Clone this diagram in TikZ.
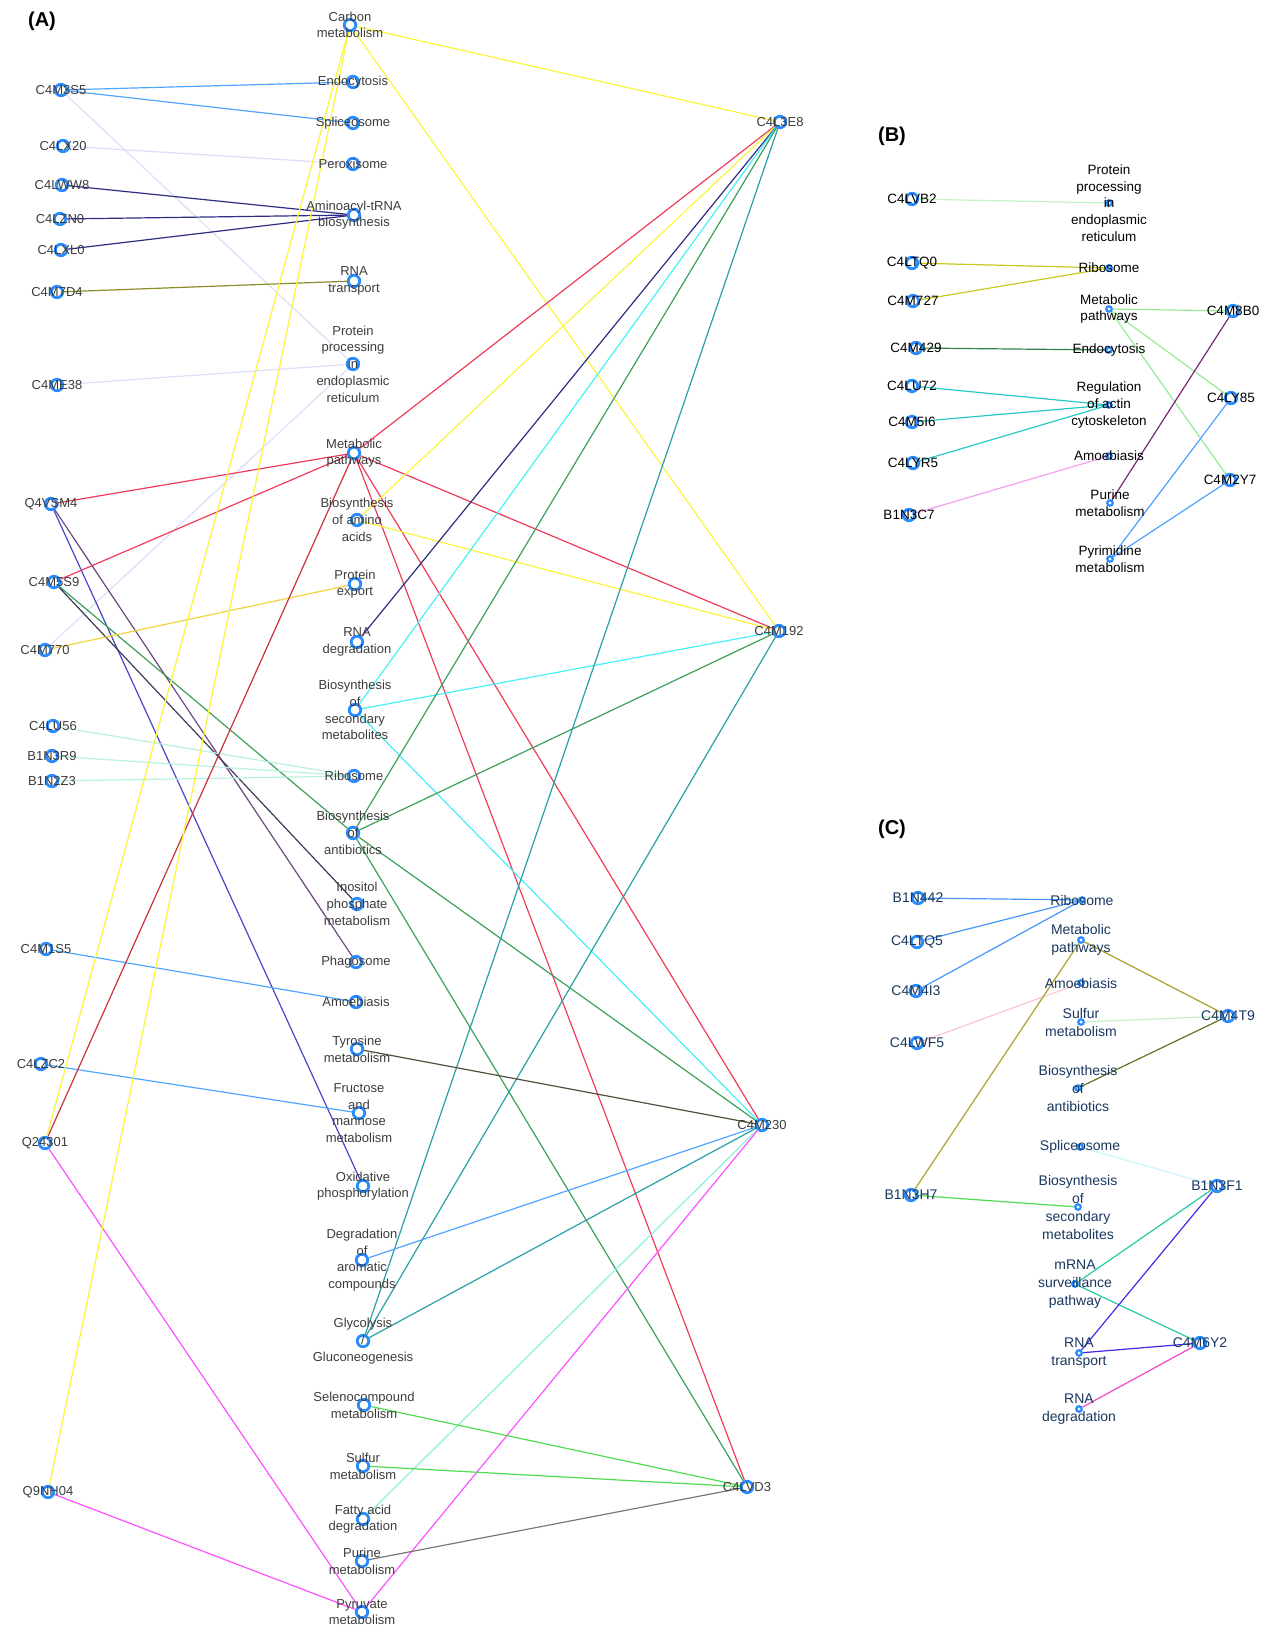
\documentclass[tikz,border=0pt]{standalone}
\usepackage{fontspec}
\setmainfont{Liberation Sans}
\usepackage{xcolor}
\usepackage{tikz}
\usetikzlibrary{backgrounds}

\definecolor{ringblue}{RGB}{40,140,255}
\definecolor{txtA}{RGB}{60,60,60}
\definecolor{txtC}{RGB}{25,55,95}
\definecolor{ebluelt}{RGB}{80,165,255}
\definecolor{elav}{RGB}{222,222,250}
\definecolor{enavy}{RGB}{45,45,130}
\definecolor{eolive}{RGB}{140,140,40}
\definecolor{ered}{RGB}{240,60,90}
\definecolor{edred}{RGB}{200,50,60}
\definecolor{eyel}{RGB}{250,245,60}
\definecolor{emag}{RGB}{255,80,255}
\definecolor{egreen}{RGB}{60,160,90}
\definecolor{eteal}{RGB}{40,160,165}
\definecolor{ecyan}{RGB}{70,240,245}
\definecolor{emint}{RGB}{185,242,220}
\definecolor{epurp}{RGB}{110,70,130}
\definecolor{eindigo}{RGB}{70,70,200}
\definecolor{edark}{RGB}{60,60,90}
\definecolor{egrey}{RGB}{120,120,120}
\definecolor{etyro}{RGB}{80,80,60}
\definecolor{eaqua}{RGB}{140,240,220}
\definecolor{elime}{RGB}{80,220,80}
\definecolor{eorange}{RGB}{240,210,60}
\definecolor{elgreen}{RGB}{195,245,195}
\definecolor{eyolive}{RGB}{200,200,30}
\definecolor{edgreen}{RGB}{50,130,80}
\definecolor{eturq}{RGB}{40,200,200}
\definecolor{epink}{RGB}{245,160,240}
\definecolor{epale}{RGB}{150,235,150}
\definecolor{eviolet}{RGB}{120,40,120}
\definecolor{esky}{RGB}{80,160,255}
\definecolor{cblue}{RGB}{70,150,250}
\definecolor{cpink}{RGB}{250,200,205}
\definecolor{colive}{RGB}{170,160,40}
\definecolor{cgreen}{RGB}{80,220,80}
\definecolor{cpalegreen}{RGB}{200,240,200}
\definecolor{cdolive}{RGB}{90,120,30}
\definecolor{cpalecyan}{RGB}{200,245,250}
\definecolor{cteal}{RGB}{40,200,160}
\definecolor{cviolet}{RGB}{70,40,230}
\definecolor{cmag}{RGB}{240,70,200}

\begin{document}
\begin{tikzpicture}[x=1pt, y=-1pt,
    ring/.style={circle, draw=ringblue, line width=2.8, minimum size=11.5, inner sep=0},
    dot/.style={circle, draw=ringblue, line width=2.2, minimum size=5.5, inner sep=0},
    ta/.style={font=\fontsize{13}{16.7}\selectfont, text=txtA, align=center, inner sep=0},
    tb/.style={font=\fontsize{13.5}{16.7}\selectfont, text=black, align=center, inner sep=0},
    tc/.style={font=\fontsize{14}{18}\selectfont, text=txtC, align=center, inner sep=0},
    link/.style={line width=1.2},
    panel/.style={font=\fontsize{20}{24}\selectfont\bfseries}]

    \useasboundingbox (0,0) rectangle (1273,1631);

    % Panel labels
    \node[panel] (labA) at (42,21) {(A)};
    \node[panel] (labB) at (892,136) {(B)};
    \node[panel] (labC) at (892,829) {(C)};

    % (A) proteins, left
    \node[ring, label={[ta]center:C4M3S5}] (m3s5) at (61,90) {};
    \node[ring, label={[ta]center:C4LX20}] (lx20) at (63,146) {};
    \node[ring, label={[ta]center:C4LWW8}] (lww8) at (62,185) {};
    \node[ring, label={[ta]center:C4LZN0}] (lzn0) at (60,219) {};
    \node[ring, label={[ta]center:C4LXL0}] (lxl0) at (61,250) {};
    \node[ring, label={[ta]center:C4M7D4}] (m7d4) at (57,292) {};
    \node[ring, label={[ta]center:C4ME38}] (me38) at (57,385) {};
    \node[ring, label={[ta]center:Q4VSM4}] (vsm4) at (51,504) {};
    \node[ring, label={[ta]center:C4M5S9}] (m5s9) at (54,582) {};
    \node[ring, label={[ta]center:C4M770}] (m770) at (45,650) {};
    \node[ring, label={[ta]center:C4LU56}] (lu56) at (53,726) {};
    \node[ring, label={[ta]center:B1N3R9}] (n3r9) at (52,756) {};
    \node[ring, label={[ta]center:B1N2Z3}] (n2z3) at (52,781) {};
    \node[ring, label={[ta]center:C4M1S5}] (m1s5) at (46,949) {};
    \node[ring, label={[ta]center:C4LZC2}] (lzc2) at (41,1064) {};
    \node[ring, label={[ta]center:Q24301}] (q243) at (45,1143) {};
    \node[ring, label={[ta]center:Q9NH04}] (q9nh) at (48,1492) {};

    % (A) pathways, middle
    \node[ring, label={[ta]center:{Carbon\\metabolism}}] (carbon) at (350,25) {};
    \node[ring, label={[ta]center:Endocytosis}] (endoA) at (353,82) {};
    \node[ring, label={[ta]center:Spliceosome}] (spliceA) at (353,123) {};
    \node[ring, label={[ta]center:Peroxisome}] (peroxA) at (353,164) {};
    \node[ring, label={[ta]center:{Aminoacyl-tRNA\\biosynthesis}}] (aminoA) at (354,215) {};
    \node[ring, label={[ta]center:{RNA\\transport}}] (rnatrA) at (354,281) {};
    \node[ring, label={[ta]center:{Protein\\processing\\in\\endoplasmic\\reticulum}}] (protprA) at (353,364) {};
    \node[ring, label={[ta]center:{Metabolic\\pathways}}] (metabA) at (354,453) {};
    \node[ring, label={[ta]center:{Biosynthesis\\of amino\\acids}}] (aminoacA) at (357,520) {};
    \node[ring, label={[ta]center:{Protein\\export}}] (protexA) at (355,584) {};
    \node[ring, label={[ta]center:{RNA\\degradation}}] (rnadegA) at (357,642) {};
    \node[ring, label={[ta]center:{Biosynthesis\\of\\secondary\\metabolites}}] (secmetA) at (355,710) {};
    \node[ring, label={[ta]center:Ribosome}] (riboA) at (354,776) {};
    \node[ring, label={[ta]center:{Biosynthesis\\of\\antibiotics}}] (antibA) at (353,833) {};
    \node[ring, label={[ta]center:{Inositol\\phosphate\\metabolism}}] (inosA) at (357,904) {};
    \node[ring, label={[ta]center:Phagosome}] (phagoA) at (356,962) {};
    \node[ring, label={[ta]center:Amoebiasis}] (amoebA) at (356,1002) {};
    \node[ring, label={[ta]center:{Tyrosine\\metabolism}}] (tyroA) at (357,1049) {};
    \node[ring, label={[ta]center:{Fructose\\and\\mannose\\metabolism}}] (frucA) at (359,1113) {};
    \node[ring, label={[ta]center:{Oxidative\\phosphorylation}}] (oxidA) at (363,1186) {};
    \node[ring, label={[ta]center:{Degradation\\of\\aromatic\\compounds}}] (aromA) at (362,1260) {};
    \node[ring, label={[ta]center:{Glycolysis\\/\\Gluconeogenesis}}] (glycoA) at (363,1341) {};
    \node[ring, label={[ta]center:{Selenocompound\\metabolism}}] (selenA) at (364,1405) {};
    \node[ring, label={[ta]center:{Sulfur\\metabolism}}] (sulfA) at (363,1466) {};
    \node[ring, label={[ta]center:{Fatty acid\\degradation}}] (fattyA) at (363,1519) {};
    \node[ring, label={[ta]center:{Purine\\metabolism}}] (purA) at (362,1561) {};
    \node[ring, label={[ta]center:{Pyruvate\\metabolism}}] (pyruA) at (362,1612) {};

    % (A) proteins, right
    \node[ring, label={[ta]center:C4L3E8}] (l3e8) at (780,122) {};
    \node[ring, label={[ta]center:C4M192}] (m192) at (779,631) {};
    \node[ring, label={[ta]center:C4M230}] (m230) at (762,1125) {};
    \node[ring, label={[ta]center:C4LVD3}] (lvd3) at (747,1487) {};

    % (B) proteins and pathways
    \node[ring, label={[tb]center:C4LVB2}] (bvb2) at (912,199) {};
    \node[ring, label={[tb]center:C4LTQ0}] (btq0) at (912,263) {};
    \node[ring, label={[tb]center:C4M727}] (b727) at (913,301) {};
    \node[ring, label={[tb]center:C4M429}] (b429) at (916,348) {};
    \node[ring, label={[tb]center:C4LU72}] (blu72) at (912,386) {};
    \node[ring, label={[tb]center:C4M5I6}] (b5i6) at (912,422) {};
    \node[ring, label={[tb]center:C4LYR5}] (byr5) at (913,463) {};
    \node[ring, label={[tb]center:B1N3C7}] (b3c7) at (909,515) {};
    \node[dot, label={[tb]center:{Protein\\processing\\in\\endoplasmic\\reticulum}}] (bprot) at (1109,203) {};
    \node[dot, label={[tb]center:Ribosome}] (bribo) at (1109,268) {};
    \node[dot, label={[tb]center:{Metabolic\\pathways}}] (bmet) at (1109,309) {};
    \node[dot, label={[tb]center:Endocytosis}] (bendo) at (1109,350) {};
    \node[dot, label={[tb]center:{Regulation\\of actin\\cytoskeleton}}] (bact) at (1109,405) {};
    \node[dot, label={[tb]center:Amoebiasis}] (bamo) at (1109,456) {};
    \node[dot, label={[tb]center:{Purine\\metabolism}}] (bpur) at (1110,503) {};
    \node[dot, label={[tb]center:{Pyrimidine\\metabolism}}] (bpyr) at (1110,559) {};
    \node[ring, label={[tb]center:C4M8B0}] (b8b0) at (1233,311) {};
    \node[ring, label={[tb]center:C4LY85}] (by85) at (1231,398) {};
    \node[ring, label={[tb]center:C4M2Y7}] (b2y7) at (1230,480) {};

    % (C) proteins and pathways
    \node[ring, label={[tc]center:B1N442}] (c442) at (918,898) {};
    \node[ring, label={[tc]center:C4LTQ5}] (ctq5) at (917,942) {};
    \node[ring, label={[tc]center:C4M4I3}] (c4i3) at (916,991) {};
    \node[ring, label={[tc]center:C4LWF5}] (cwf5) at (917,1043) {};
    \node[ring, label={[tc]center:B1N3H7}] (c3h7) at (911,1195) {};
    \node[dot, label={[tc]center:Ribosome}] (cribo) at (1082,900) {};
    \node[dot, label={[tc]center:{Metabolic\\pathways}}] (cmet) at (1081,940) {};
    \node[dot, label={[tc]center:Amoebiasis}] (camo) at (1081,983) {};
    \node[dot, label={[tc]center:{Sulfur\\metabolism}}] (csul) at (1081,1022) {};
    \node[dot, label={[tc]center:{Biosynthesis\\of\\antibiotics}}] (cant) at (1078,1088) {};
    \node[dot, label={[tc]center:Spliceosome}] (cspl) at (1080,1147) {};
    \node[dot, label={[tc]center:{Biosynthesis\\of\\secondary\\metabolites}}] (csec) at (1078,1207) {};
    \node[dot, label={[tc]center:{mRNA\\surveillance\\pathway}}] (cmrna) at (1075,1284) {};
    \node[dot, label={[tc]center:{RNA\\transport}}] (crnat) at (1079,1353) {};
    \node[dot, label={[tc]center:{RNA\\degradation}}] (crnad) at (1079,1409) {};
    \node[ring, label={[tc]center:C4M4T9}] (c4t9) at (1228,1016) {};
    \node[ring, label={[tc]center:B1N3F1}] (c3f1) at (1217,1186) {};
    \node[ring, label={[tc]center:C4M6Y2}] (c6y2) at (1200,1343) {};

    % Links
    \begin{scope}[on background layer]
    % (A)
    \draw[link, ebluelt] (m3s5) -- (endoA);
    \draw[link, ebluelt] (m3s5) -- (spliceA);
    \draw[link, elav] (m3s5) -- (protprA);
    \draw[link, elav] (lx20) -- (peroxA);
    \draw[link, enavy] (lww8) -- (aminoA);
    \draw[link, enavy] (lzn0) -- (aminoA);
    \draw[link, enavy] (lxl0) -- (aminoA);
    \draw[link, eolive] (m7d4) -- (rnatrA);
    \draw[link, elav] (me38) -- (protprA);
    \draw[link, elav] (protprA) -- (m770);
    \draw[link, ered] (vsm4) -- (metabA);
    \draw[link, eindigo] (vsm4) -- (oxidA);
    \draw[link, epurp] (vsm4) -- (phagoA);
    \draw[link, ered] (m5s9) -- (metabA);
    \draw[link, egreen] (m5s9) -- (antibA);
    \draw[link, edark] (m5s9) -- (inosA);
    \draw[link, eorange] (m770) -- (protexA);
    \draw[link, emint] (lu56) -- (riboA);
    \draw[link, emint] (n3r9) -- (riboA);
    \draw[link, emint] (n2z3) -- (riboA);
    \draw[link, ebluelt] (m1s5) -- (amoebA);
    \draw[link, ebluelt] (lzc2) -- (frucA);
    \draw[link, edred] (q243) -- (metabA);
    \draw[link, eyel] (q243) -- (carbon);
    \draw[link, emag] (q243) -- (pyruA);
    \draw[link, eyel] (q9nh) -- (carbon);
    \draw[link, emag] (q9nh) -- (pyruA);
    \draw[link, eyel] (carbon) -- (l3e8);
    \draw[link, eyel] (carbon) -- (m192);
    \draw[link, ered] (metabA) -- (l3e8);
    \draw[link, ered] (metabA) -- (m192);
    \draw[link, ered] (metabA) -- (m230);
    \draw[link, ered] (metabA) -- (lvd3);
    \draw[link, eyel] (aminoacA) -- (l3e8);
    \draw[link, eyel] (aminoacA) -- (m192);
    \draw[link, enavy] (rnadegA) -- (l3e8);
    \draw[link, ecyan] (secmetA) -- (l3e8);
    \draw[link, ecyan] (secmetA) -- (m192);
    \draw[link, ecyan] (secmetA) -- (m230);
    \draw[link, egreen] (antibA) -- (l3e8);
    \draw[link, egreen] (antibA) -- (m192);
    \draw[link, egreen] (antibA) -- (m230);
    \draw[link, egreen] (antibA) -- (lvd3);
    \draw[link, eteal] (glycoA) -- (l3e8);
    \draw[link, eteal] (glycoA) -- (m192);
    \draw[link, eteal] (glycoA) -- (m230);
    \draw[link, etyro] (tyroA) -- (m230);
    \draw[link, ebluelt] (aromA) -- (m230);
    \draw[link, eaqua] (fattyA) -- (m230);
    \draw[link, emag] (pyruA) -- (m230);
    \draw[link, elime] (selenA) -- (lvd3);
    \draw[link, elime] (sulfA) -- (lvd3);
    \draw[link, egrey] (purA) -- (lvd3);
    % (B)
    \draw[link, elgreen] (bvb2) -- (bprot);
    \draw[link, eyolive] (btq0) -- (bribo);
    \draw[link, eyolive] (b727) -- (bribo);
    \draw[link, edgreen] (b429) -- (bendo);
    \draw[link, eturq] (blu72) -- (bact);
    \draw[link, eturq] (b5i6) -- (bact);
    \draw[link, eturq] (byr5) -- (bact);
    \draw[link, epink] (b3c7) -- (bamo);
    \draw[link, epale] (bmet) -- (b8b0);
    \draw[link, epale] (bmet) -- (by85);
    \draw[link, epale] (bmet) -- (b2y7);
    \draw[link, eviolet] (bpur) -- (b8b0);
    \draw[link, esky] (bpyr) -- (by85);
    \draw[link, esky] (bpyr) -- (b2y7);
    % (C)
    \draw[link, cblue] (c442) -- (cribo);
    \draw[link, cblue] (ctq5) -- (cribo);
    \draw[link, cblue] (c4i3) -- (cribo);
    \draw[link, cpink] (cwf5) -- (camo);
    \draw[link, colive] (c3h7) -- (cmet);
    \draw[link, cgreen] (c3h7) -- (csec);
    \draw[link, colive] (cmet) -- (c4t9);
    \draw[link, cpalegreen] (csul) -- (c4t9);
    \draw[link, cdolive] (cant) -- (c4t9);
    \draw[link, cpalecyan] (cspl) -- (c3f1);
    \draw[link, cteal] (cmrna) -- (c3f1);
    \draw[link, cteal] (cmrna) -- (c6y2);
    \draw[link, cviolet] (crnat) -- (c3f1);
    \draw[link, cviolet] (crnat) -- (c6y2);
    \draw[link, cmag] (crnad) -- (c6y2);
    \end{scope}

\end{tikzpicture}
\end{document}
